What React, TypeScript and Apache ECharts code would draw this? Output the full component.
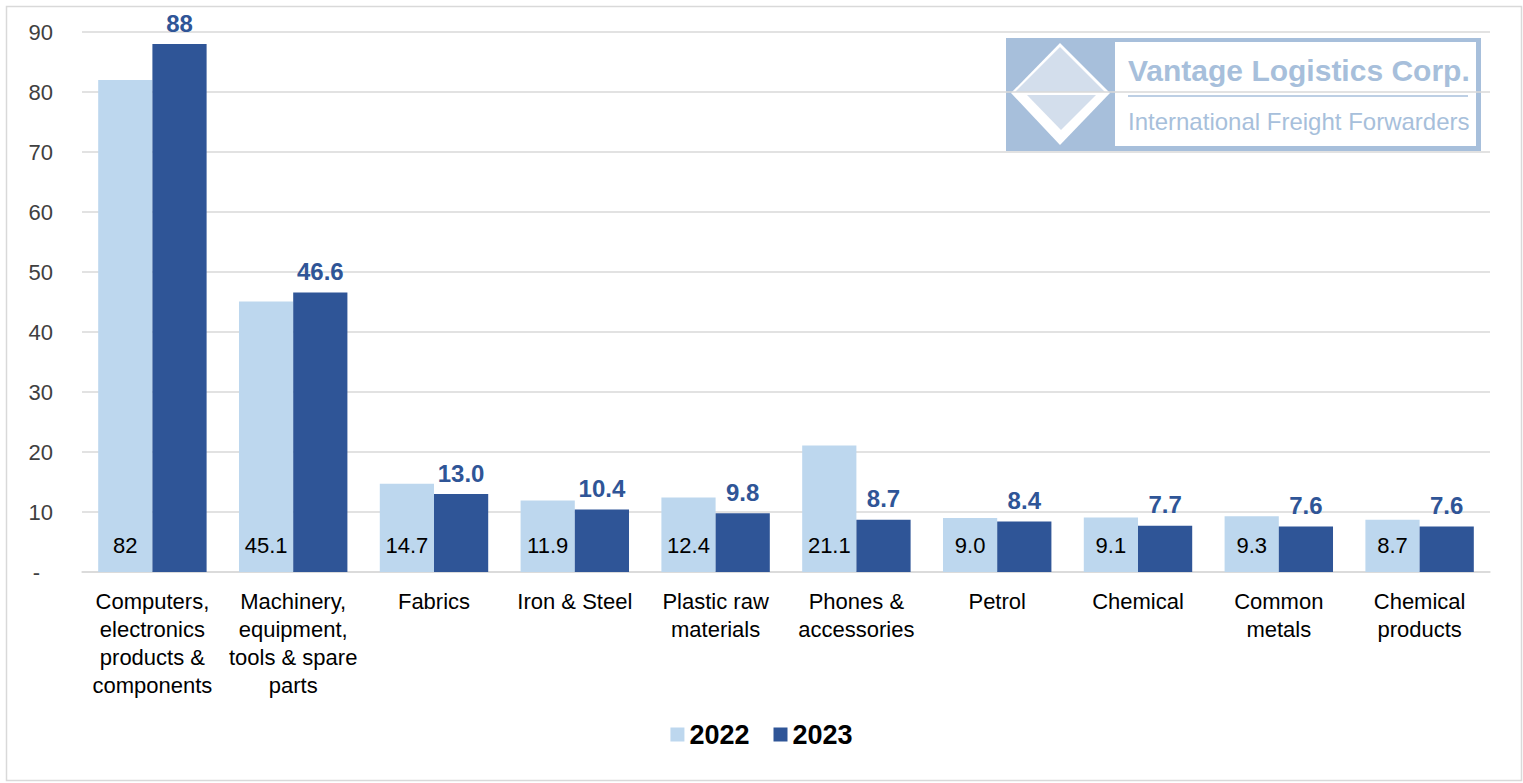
import React, { useEffect, useRef } from "react";
import * as echarts from "echarts";

const categories = [
  "Computers,\nelectronics\nproducts &\ncomponents",
  "Machinery,\nequipment,\ntools & spare\nparts",
  "Fabrics",
  "Iron & Steel",
  "Plastic raw\nmaterials",
  "Phones &\naccessories",
  "Petrol",
  "Chemical",
  "Common\nmetals",
  "Chemical\nproducts",
];
const values2022 = [82, 45.1, 14.7, 11.9, 12.4, 21.1, 9.0, 9.1, 9.3, 8.7];
const values2023 = [88, 46.6, 13.0, 10.4, 9.8, 8.7, 8.4, 7.7, 7.6, 7.6];
const labels2022 = ["82", "45.1", "14.7", "11.9", "12.4", "21.1", "9.0", "9.1", "9.3", "8.7"];
const labels2023 = ["88", "46.6", "13.0", "10.4", "9.8", "8.7", "8.4", "7.7", "7.6", "7.6"];
const yTicks = [0, 10, 20, 30, 40, 50, 60, 70, 80, 90];

const LIGHT = "#BDD7EE";
const DARK = "#2F5597";
const LOGO = "#A7BFDB";
const FONT = "Liberation Sans, Arial, sans-serif";

export default function App() {
  const ref = useRef<HTMLDivElement>(null);
  useEffect(() => {
    document.body.style.margin = "0";
    const chart = echarts.init(ref.current!, null, { renderer: "svg" });
    chart.setOption({
      animation: false,
      textStyle: { fontFamily: FONT },
      grid: { left: 82, right: 33, top: 32, bottom: 211, containLabel: false },
      legend: {
        bottom: 30,
        left: "center",
        itemWidth: 14,
        itemHeight: 14,
        itemGap: 24,
        icon: "rect",
        textStyle: { fontSize: 27, fontWeight: "bold", color: "#000", fontFamily: FONT },
        data: ["2022", "2023"],
      },
      xAxis: {
        type: "category",
        data: categories,
        axisLine: { lineStyle: { color: "#D9D9D9", width: 1.5 } },
        axisTick: { show: false },
        axisLabel: {
          interval: 0,
          fontSize: 22,
          lineHeight: 28,
          color: "#000",
          margin: 15,
          fontFamily: FONT,
        },
      },
      yAxis: {
        type: "value",
        min: yTicks[0],
        max: yTicks[yTicks.length - 1],
        interval: 10,
        axisLine: { show: false },
        axisTick: { show: false },
        splitLine: { lineStyle: { color: "#D9D9D9", width: 1.5 } },
        axisLabel: {
          fontSize: 22,
          color: "#404040",
          margin: 29,
          fontFamily: FONT,
          formatter: (v: number) => (v === 0 ? "{d|-}" : String(v)),
          rich: { d: { fontSize: 22, color: "#404040", padding: [0, 13, 0, 0], fontFamily: FONT } },
        },
      },
      series: [
        {
          name: "2022",
          type: "bar",
          data: values2022,
          barCategoryGap: "23%",
          barGap: "0%",
          itemStyle: { color: LIGHT },
          label: {
            show: true,
            position: "insideBottom",
            distance: 16,
            fontSize: 22,
            color: "#000",
            fontFamily: FONT,
            formatter: (p: any) => labels2022[p.dataIndex],
          },
        },
        {
          name: "2023",
          type: "bar",
          data: values2023,
          barCategoryGap: "23%",
          barGap: "0%",
          itemStyle: { color: DARK },
          label: {
            show: true,
            position: "top",
            distance: 9,
            fontSize: 24,
            fontWeight: "bold",
            color: DARK,
            fontFamily: FONT,
            formatter: (p: any) => labels2023[p.dataIndex],
          },
        },
      ],
      graphic: [
        {
          type: "rect",
          left: 4,
          top: 4,
          shape: { width: 1515, height: 774 },
          style: { fill: "none", stroke: "#D9D9D9", lineWidth: 1.5 },
          silent: true,
        },
        {
          type: "group",
          x: 0,
          y: 0,
          children: [
            { type: "rect", shape: { x: 1006, y: 38, width: 475, height: 113 }, style: { fill: LOGO } },
            { type: "rect", shape: { x: 1115, y: 42, width: 361, height: 104 }, style: { fill: "#fff" } },
            {
              type: "polygon",
              shape: { points: [[1060, 43], [1110, 93], [1060, 145], [1011, 93]] },
              style: { fill: "#fff" },
            },
            {
              type: "polygon",
              shape: { points: [[1060, 47], [1105, 92], [1015, 92]] },
              style: { fill: "#D3DEEC" },
            },
            {
              type: "polygon",
              shape: { points: [[1027, 95], [1096, 95], [1061, 130]] },
              style: { fill: "#D3DEEC" },
            },
            {
              type: "text",
              x: 1128,
              y: 70,
              style: {
                text: "Vantage Logistics Corp.",
                font: "bold 30px Liberation Sans, Arial, sans-serif",
                fill: LOGO,
                verticalAlign: "middle",
              },
            },
            {
              type: "line",
              shape: { x1: 1128, y1: 96, x2: 1468, y2: 96 },
              style: { stroke: LOGO, lineWidth: 1.5 },
            },
            {
              type: "text",
              x: 1128,
              y: 121,
              style: {
                text: "International Freight Forwarders",
                font: "24px Liberation Sans, Arial, sans-serif",
                fill: LOGO,
                verticalAlign: "middle",
              },
            },
          ],
        },
      ],
    });
    return () => chart.dispose();
  }, []);
  return <div ref={ref} style={{ width: 1523, height: 783 }} />;
}
